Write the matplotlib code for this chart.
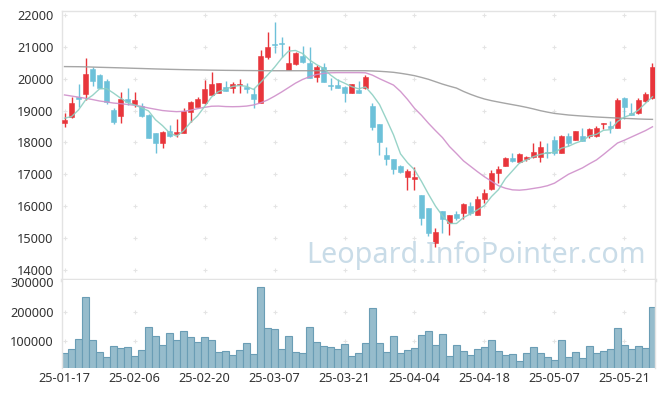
import matplotlib
matplotlib.use('Agg')
import matplotlib.pyplot as plt
import numpy as np
import pandas as pd

# trading days shown (yy-mm-dd)
dates = (['25-01-%02d' % d for d in [17, 20, 21, 22, 23, 24, 31]] +
         ['25-02-%02d' % d for d in [3, 4, 5, 6, 7, 10, 11, 12, 13, 14, 17, 18, 19, 20, 21, 24, 25, 26, 27, 28]] +
         ['25-03-%02d' % d for d in [4, 5, 6, 7, 10, 11, 12, 13, 14, 17, 18, 19, 20, 21, 24, 25, 26, 27, 28, 31]] +
         ['25-04-%02d' % d for d in [1, 2, 3, 4, 7, 8, 9, 10, 11, 14, 15, 16, 17, 18, 21, 22, 23, 24, 25, 28, 29, 30]] +
         ['25-05-%02d' % d for d in [2, 7, 8, 9, 12, 13, 14, 15, 16, 19, 20, 21, 22, 23, 26, 27]])

opens = [18620, 18790, 19420, 19510, 20300, 20120, 19930, 19020, 18840, 19360,
         19200, 19140, 18860, 18280, 17990, 18360, 18250, 18300, 18960, 19120,
         19250, 19490, 19560, 19730, 19700, 19790, 19730, 19520, 19250, 20690,
         21100, 21100, 20270, 20460, 20710, 20480, 20040, 20380, 19800, 19790,
         19730, 19560, 19640, 19700, 19140, 18580, 17600, 17470, 17260, 16920,
         16840, 16350, 15950, 14830, 15850, 15460, 15750, 15790, 16000, 15720,
         16210, 16530, 17030, 17270, 17500, 17390, 17470, 17530, 17530, 17710,
         18070, 17680, 18200, 18070, 18200, 18200, 18200, 18580, 18510, 18460,
         19380, 18910, 18910, 19310, 19380]
highs = [18910, 19440, 19830, 20640, 20380, 20150, 19980, 19090, 19570, 19700,
         19570, 19230, 18880, 18300, 18360, 18550, 18720, 19070, 19300, 19440,
         19960, 20220, 19860, 19930, 19910, 19980, 19850, 19700, 20900, 21460,
         21790, 21300, 21040, 20850, 21040, 20980, 20430, 20480, 20010, 19990,
         19770, 19820, 19940, 20120, 19230, 18580, 17860, 17470, 17290, 17180,
         17220, 16350, 15950, 15300, 15850, 15720, 15860, 16110, 16140, 16320,
         16530, 17140, 17270, 17550, 17660, 17660, 17570, 17970, 18050, 17970,
         18200, 18230, 18280, 18360, 18460, 18460, 18510, 18620, 18680, 19400,
         19440, 19230, 19380, 19590, 20500]
lows = [18490, 18770, 19120, 19330, 19770, 19700, 19190, 18580, 18600, 19170,
        19100, 18790, 18130, 17660, 17810, 18180, 18160, 18280, 18650, 19100,
        19220, 19480, 19550, 19610, 19560, 19540, 19540, 19070, 19240, 20610,
        20800, 20690, 20270, 20430, 20480, 20030, 19910, 19900, 19640, 19710,
        19280, 19540, 19560, 19690, 18390, 17600, 17290, 17010, 17030, 16500,
        16500, 15400, 15060, 14720, 15160, 15090, 15560, 15610, 15720, 15710,
        16110, 16520, 16730, 17260, 17390, 17360, 17420, 17520, 17400, 17500,
        17600, 17670, 17880, 18070, 18050, 18130, 18160, 18410, 18300, 18450,
        18750, 18850, 18880, 19270, 19370]
closes = [18700, 19230, 19360, 20150, 19940, 19720, 19280, 18650, 19360, 19260,
          19330, 18840, 18150, 17970, 18340, 18200, 18320, 18990, 19280, 19360,
          19670, 19820, 19850, 19620, 19820, 19820, 19690, 19360, 20710, 20980,
          21050, 21080, 20500, 20820, 20510, 20030, 20360, 19910, 19770, 19720,
          19540, 19820, 19560, 20060, 18490, 18020, 17470, 17150, 17070, 17100,
          16920, 15640, 15140, 15190, 15580, 15720, 15640, 16070, 15770, 16210,
          16400, 17050, 17160, 17500, 17430, 17620, 17530, 17690, 17860, 17660,
          17680, 18200, 17990, 18360, 18050, 18410, 18460, 18620, 18460, 19330,
          19100, 18860, 19330, 19510, 20360]
volumes = [58000, 71600, 105700, 248900, 102300, 61400, 44300, 81800, 75000, 78400,
           47700, 68200, 148900, 115900, 85200, 126100, 102300, 133000, 112500, 95500,
           112500, 102300, 61400, 64800, 51100, 68200, 92000, 54500, 283000, 143200,
           139800, 71600, 115900, 61400, 58000, 148900, 95500, 81800, 78400, 71600,
           88600, 47700, 58000, 92000, 211400, 92000, 61400, 115900, 58000, 68200,
           75000, 119300, 133000, 85200, 122700, 47700, 85200, 64800, 51100, 71600,
           78400, 102300, 64800, 51100, 54500, 30700, 58000, 78400, 58000, 44300,
           34100, 102300, 44300, 61400, 40900, 81800, 58000, 64800, 71600, 143200,
           85200, 71600, 81800, 75000, 214800]

# first four MA5 points come from days before the window
ma5_head = [18760, 18810, 19020, 19330]
ma20 = [19490, 19455, 19420, 19385, 19345, 19300, 19270, 19235, 19215, 19190,
        19165, 19130, 19080, 19040, 19000, 18980, 18965, 18975, 19010, 19060,
        19100, 19135, 19140, 19125, 19120, 19125, 19140, 19175, 19240, 19330,
        19450, 19580, 19720, 19860, 19975, 20060, 20130, 20165, 20185, 20190,
        20190, 20190, 20190, 20185, 20110, 20000, 19900, 19800, 19600, 19350,
        19070, 18850, 18600, 18370, 18150, 17870, 17650, 17420, 17250, 17080,
        16920, 16780, 16640, 16560, 16510, 16500, 16520, 16555, 16590, 16640,
        16720, 16860, 17000, 17100, 17200, 17330, 17450, 17620, 17800, 17980,
        18070, 18170, 18270, 18370, 18490]
ma60 = [20380, 20378, 20376, 20372, 20365, 20358, 20352, 20346, 20340, 20333,
        20326, 20320, 20313, 20306, 20300, 20294, 20289, 20284, 20280, 20276,
        20272, 20268, 20265, 20262, 20260, 20258, 20256, 20254, 20252, 20251,
        20250, 20250, 20250, 20250, 20250, 20250, 20250, 20250, 20250, 20250,
        20250, 20250, 20250, 20250, 20242, 20232, 20218, 20200, 20170, 20135,
        20095, 20040, 19980, 19905, 19830, 19765, 19705, 19600, 19510, 19430,
        19362, 19310, 19267, 19225, 19185, 19145, 19100, 19050, 18995, 18950,
        18910, 18885, 18860, 18843, 18827, 18812, 18797, 18786, 18775, 18765,
        18755, 18745, 18735, 18728, 18723]

price_ticks = list(range(14000, 22001, 1000))
vol_ticks = [100000, 200000, 300000]

RED = '#e8353b'
BLUE = '#6dc1d9'
GRID = '#e4e4e4'
EDGE = '#e3e3e3'

o = np.array(opens); h = np.array(highs); l = np.array(lows); c = np.array(closes)
x = np.arange(len(c))
up = c >= o
col = np.where(up, RED, BLUE)

ma5 = pd.Series(c, dtype=float).rolling(5).mean().to_numpy()
ma5[:4] = ma5_head

fig = plt.figure(figsize=(6.65, 3.97), dpi=100)
ax = fig.add_axes([62/665, 1-280/397, (655-62)/665, (280-11)/397])
axv = fig.add_axes([62/665, 1-368/397, (655-62)/665, (368-280)/397], sharex=ax)

tick_ix = list(range(0, len(x), 10))

# grid crosses
gx, gy = np.meshgrid(tick_ix, price_ticks)
ax.scatter(gx.ravel(), gy.ravel(), marker='+', s=12, c=GRID, linewidths=0.8, zorder=0)
gx, gy = np.meshgrid(tick_ix, vol_ticks[:2])
axv.scatter(gx.ravel(), gy.ravel(), marker='+', s=12, c=GRID, linewidths=0.8, zorder=0)

# candles
ax.vlines(x, l, h, colors=col, linewidth=1.0, zorder=2)
body = np.maximum(np.abs(c - o), 25)
ax.bar(x, body, bottom=np.minimum(o, c), width=0.66, color=col, edgecolor=col, linewidth=0.4, zorder=3)

ax.plot(x, ma60, color='#9c9c9c', lw=1.0, alpha=0.9, zorder=4)
ax.plot(x, ma20, color='#cf8fca', lw=1.0, alpha=0.9, zorder=4)
ax.plot(x, ma5, color='#8dcfc2', lw=1.0, alpha=0.9, zorder=4)

ax.set_ylim(13680, 22125)
ax.set_xlim(-0.36, len(x) - 0.64)
ax.set_yticks(price_ticks)

axv.bar(x, volumes, width=1.0, color='#96bccc', edgecolor='#6a9db5', linewidth=0.8, zorder=2)
axv.set_ylim(7800, 308000)
axv.set_yticks(vol_ticks)
axv.set_xticks(tick_ix)
axv.set_xticklabels([dates[i] for i in tick_ix])

for a in (ax, axv):
    a.tick_params(length=0, labelsize=9.2, labelcolor='#333333', pad=6)
    for s in a.spines.values():
        s.set_color(EDGE)
        s.set_linewidth(1.0)
    for t in a.get_xticklabels() + a.get_yticklabels():
        t.set_fontfamily('Noto Sans')
ax.tick_params(labelbottom=False)
ax.spines['bottom'].set_linewidth(2.5)
axv.spines['top'].set_visible(False)
axv.spines['bottom'].set_visible(False)
axv.tick_params(axis='x', pad=3)

fig.text(306/665, 1-263/397, 'Leopard.InfoPointer.com', fontsize=20.7, color='#c9dce8',
         family='Noto Sans', ha='left', va='baseline', zorder=1)

fig.savefig('out.png', dpi=100)
